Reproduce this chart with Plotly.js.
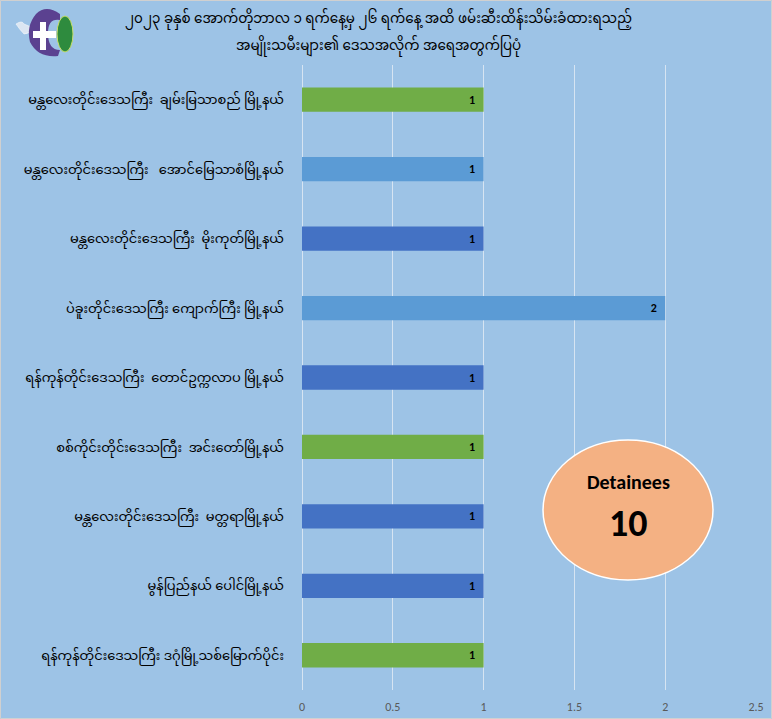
<!DOCTYPE html>
<html>
<head>
<meta charset="utf-8">
<script src="https://cdn.plot.ly/plotly-3.0.1.min.js"></script>
<style>html,body{margin:0;padding:0;background:#9DC3E6;}</style>
</head>
<body>
<div id="chart" style="width:772px;height:719px;"></div>
<script>
// Categories listed bottom to top (Plotly category axis order)
const categories = [
  "ရန်ကုန်တိုင်းဒေသကြီး ဒဂုံမြို့သစ်မြောက်ပိုင်း",
  "မွန်ပြည်နယ် ပေါင်မြို့နယ်",
  "မန္တလေးတိုင်းဒေသကြီး  မတ္တရာမြို့နယ်",
  "စစ်ကိုင်းတိုင်းဒေသကြီး  အင်းတော်မြို့နယ်",
  "ရန်ကုန်တိုင်းဒေသကြီး  တောင်ဥက္ကလာပ မြို့နယ်",
  "ပဲခူးတိုင်းဒေသကြီး ကျောက်ကြီး မြို့နယ်",
  "မန္တလေးတိုင်းဒေသကြီး  မိုးကုတ်မြို့နယ်",
  "မန္တလေးတိုင်းဒေသကြီး   အောင်မြေသာစံမြို့နယ်",
  "မန္တလေးတိုင်းဒေသကြီး  ချမ်းမြသာစည် မြို့နယ်"
];
const values = [1, 1, 1, 1, 1, 2, 1, 1, 1];
const barColors = ["#70AD47", "#4472C4", "#4472C4", "#70AD47", "#4472C4", "#5B9BD5", "#4472C4", "#5B9BD5", "#70AD47"];
const xTicks = [0, 0.5, 1, 1.5, 2, 2.5];
const totalLabel = "Detainees";
const totalValue = 10;
const titleLine1 = "၂၀၂၃ ခုနှစ် အောက်တိုဘာလ ၁ ရက်နေ့မှ ၂၆ ရက်နေ့ အထိ ဖမ်းဆီးထိန်းသိမ်းခံထားရသည့်";
const titleLine2 = "အမျိုးသမီးများ၏ ဒေသအလိုက် အရေအတွက်ပြပုံ";

const W = 772, H = 719, L = 302, R = 16, T = 65, B = 29;
const pw = W - L - R, ph = H - T - B;
const px = x => (x - L) / pw;
const py = y => (H - B - y) / ph;
const P = (x, y) => px(x).toFixed(5) + "," + py(y).toFixed(5);

const myFont = "'Noto Sans Myanmar', Padauk, 'Myanmar Text', 'Noto Sans', sans-serif";
const latinFont = "Carlito, Calibri, 'Liberation Sans', Arial, sans-serif";

const trace = {
  type: "bar",
  orientation: "h",
  y: categories,
  x: values,
  marker: {color: barColors},
  text: values.map(v => String(v) + "\u00A0\u00A0"),
  textposition: "inside",
  insidetextanchor: "end",
  textfont: {family: latinFont, size: 12, color: "#000000", weight: "bold"},
  hoverinfo: "none"
};

// C-shaped purple logo mark
const cPath = "M " + P(60, 14) + " Q " + P(46, 4) + " " + P(36, 14) +
  " Q " + P(26, 26) + " " + P(30, 42) + " Q " + P(38, 58) + " " + P(58, 56) +
  " L " + P(60, 50) + " Q " + P(48, 50) + " " + P(48, 33) + " Q " + P(48, 18) + " " + P(60, 20) + " Z";
const dovePath = "M " + P(16, 24) + " Q " + P(22, 20) + " " + P(24, 24) + " L " + P(34, 28) +
  " Q " + P(30, 34) + " " + P(24, 34) + " Q " + P(20, 30) + " " + P(16, 24) + " Z";

const layout = {
  width: W, height: H,
  paper_bgcolor: "#9DC3E6",
  plot_bgcolor: "#9DC3E6",
  margin: {l: L, r: R, t: T, b: B},
  showlegend: false,
  bargap: 0.65,
  font: {family: myFont},
  xaxis: {
    range: [0, 2.5],
    tickvals: xTicks,
    ticktext: xTicks.map(String),
    showgrid: true,
    gridcolor: "#D6E4F2",
    gridwidth: 1,
    zeroline: true,
    zerolinecolor: "#D6E4F2",
    showline: false,
    ticks: "",
    ticklabelstandoff: 8,
    tickfont: {size: 12, color: "#595959", family: latinFont},
    fixedrange: true
  },
  yaxis: {
    type: "category",
    categoryorder: "array",
    categoryarray: categories,
    showgrid: false,
    zeroline: false,
    showline: false,
    ticks: "",
    ticklabelstandoff: 17,
    tickfont: {size: 13, color: "#000000", family: myFont},
    automargin: false,
    fixedrange: true
  },
  shapes: [
    {type: "circle", xref: "paper", yref: "paper",
     x0: px(543), x1: px(713), y0: py(580), y1: py(440),
     fillcolor: "#F4B183", line: {color: "#FFFFFF", width: 1.5}, layer: "above"},
    // logo approximation
    {type: "path", xref: "paper", yref: "paper", path: dovePath,
     fillcolor: "#DCE6F2", line: {color: "#FFFFFF", width: 0.5}},
    {type: "path", xref: "paper", yref: "paper", path: cPath,
     fillcolor: "#5B4190", line: {width: 0}},
    {type: "rect", xref: "paper", yref: "paper",
     x0: px(33), x1: px(56), y0: py(38), y1: py(31),
     fillcolor: "#FFFFFF", line: {width: 0}},
    {type: "rect", xref: "paper", yref: "paper",
     x0: px(40), x1: px(46), y0: py(50), y1: py(22),
     fillcolor: "#FFFFFF", line: {width: 0}},
    {type: "circle", xref: "paper", yref: "paper",
     x0: px(57), x1: px(73), y0: py(52), y1: py(16),
     fillcolor: "#2E8B3E", line: {color: "#C8E06A", width: 1}},
    {type: "rect", xref: "paper", yref: "paper",
     x0: px(0.5), x1: px(771.5), y0: py(718.5), y1: py(0.5),
     fillcolor: "rgba(0,0,0,0)", line: {color: "#D0D0D0", width: 1}}
  ],
  annotations: [
    {xref: "paper", yref: "paper", x: px(378), y: py(20), xanchor: "center", yanchor: "middle",
     text: titleLine1, showarrow: false, font: {family: myFont, size: 13.5, color: "#000000"}},
    {xref: "paper", yref: "paper", x: px(378), y: py(47), xanchor: "center", yanchor: "middle",
     text: titleLine2, showarrow: false, font: {family: myFont, size: 13.5, color: "#000000"}},
    {xref: "paper", yref: "paper", x: px(628), y: py(482), xanchor: "center", yanchor: "middle",
     text: "<b>" + totalLabel + "</b>",
     showarrow: false, font: {family: latinFont, size: 20, color: "#000000"}},
    {xref: "paper", yref: "paper", x: px(628), y: py(523), xanchor: "center", yanchor: "middle",
     text: "<b>" + totalValue + "</b>",
     showarrow: false, font: {family: latinFont, size: 38, color: "#000000"}}
  ]
};

Plotly.newPlot("chart", [trace], layout, {displayModeBar: false, staticPlot: true});
</script>
</body>
</html>
